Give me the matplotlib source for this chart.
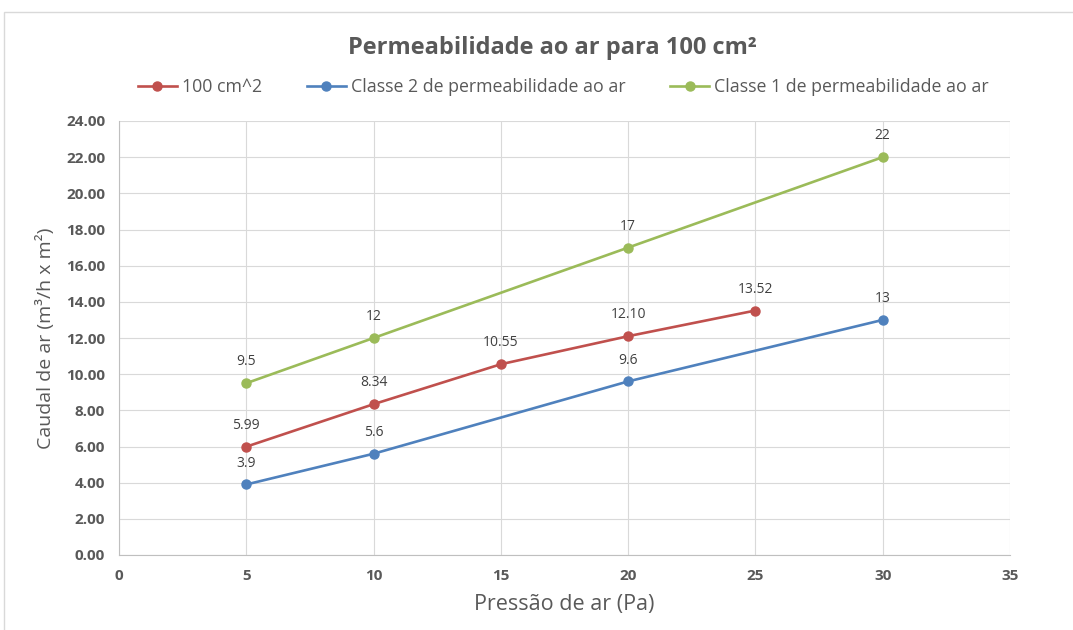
import matplotlib

matplotlib.use("Agg")
import matplotlib.pyplot as plt
from matplotlib.patches import Rectangle

# Data
pressure_100 = [5, 10, 15, 20, 25]
flow_100 = [5.99, 8.34, 10.55, 12.10, 13.52]
labels_100 = ["5.99", "8.34", "10.55", "12.10", "13.52"]

pressure_classe2 = [5, 10, 20, 30]
flow_classe2 = [3.9, 5.6, 9.6, 13]
labels_classe2 = ["3.9", "5.6", "9.6", "13"]

pressure_classe1 = [5, 10, 20, 30]
flow_classe1 = [9.5, 12, 17, 22]
labels_classe1 = ["9.5", "12", "17", "22"]

plt.rcParams["font.family"] = ["Open Sans", "DejaVu Sans"]

fig = plt.figure(figsize=(10.73, 6.3), dpi=100)
ax = fig.add_axes([119 / 1073, 1 - 555 / 630, (1010 - 119) / 1073, (555 - 121) / 630])

# outer chart border
fig.patches.append(Rectangle((4 / 1073, -0.01), 1.0, 1 - 12 / 630 + 0.01,
                             transform=fig.transFigure, fill=False,
                             edgecolor="#D9D9D9", linewidth=1.0))

series = [
    (pressure_100, flow_100, labels_100, "#C0504D", "100 cm^2"),
    (pressure_classe2, flow_classe2, labels_classe2, "#4F81BD", "Classe 2 de permeabilidade ao ar"),
    (pressure_classe1, flow_classe1, labels_classe1, "#9BBB59", "Classe 1 de permeabilidade ao ar"),
]
for xs, ys, labels, color, name in series:
    ax.plot(xs, ys, "-o", color=color, linewidth=1.9, markersize=6.5, label=name, zorder=3)
    for x, y, text in zip(xs, ys, labels):
        ax.annotate(text, (x, y), xytext=(0, 10), textcoords="offset points",
                    ha="center", va="bottom", fontsize=10, color="#404040")

ax.set_xlim(0, 35)
ax.set_ylim(0, 24)
ax.set_xticks(range(0, 36, 5))
ax.set_yticks(range(0, 25, 2))
ax.set_yticklabels([f"{v:.2f}" for v in range(0, 25, 2)])
ax.grid(True, color="#D9D9D9", linewidth=0.8)
ax.set_axisbelow(True)
for side in ["top", "right"]:
    ax.spines[side].set_visible(False)
for side in ["left", "bottom"]:
    ax.spines[side].set_color("#BFBFBF")
ax.tick_params(length=0, labelsize=11, colors="#595959", pad=10)
for lbl in ax.get_xticklabels() + ax.get_yticklabels():
    lbl.set_fontweight("bold")

ax.set_xlabel("Pressão de ar (Pa)", fontsize=15.5, color="#595959", labelpad=8)
ax.set_ylabel("Caudal de ar (m³/h x m²)", fontsize=14, color="#595959", labelpad=8)

fig.text(552 / 1073, 1 - 48 / 630, "Permeabilidade ao ar para 100 cm²", ha="center", va="center",
         fontsize=17, fontweight="bold", color="#595959")
fig.legend(loc="center", bbox_to_anchor=(0.525, 1 - 87 / 630), ncol=3, frameon=False,
           fontsize=12.8, labelcolor="#595959", handlelength=2.2, columnspacing=2.5,
           handletextpad=0.3)

fig.savefig("out.png", dpi=100)
